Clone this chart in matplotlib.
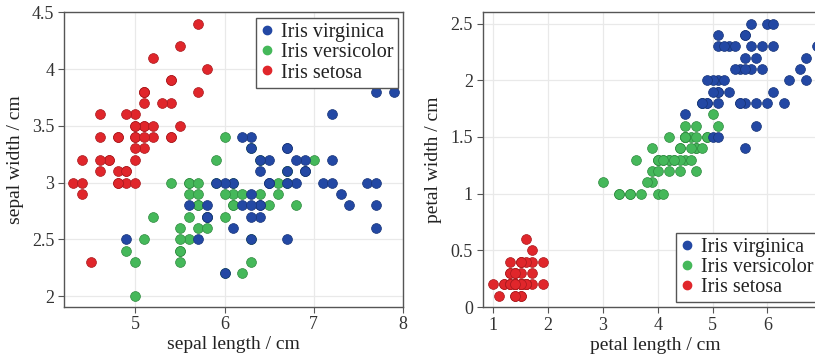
import matplotlib
matplotlib.use("Agg")
import matplotlib.pyplot as plt
from matplotlib.lines import Line2D

plt.rcParams["font.family"] = ["Liberation Serif", "DejaVu Serif"]
plt.rcParams["mathtext.fontset"] = "stix"

# Iris data: sepal length, sepal width, petal length, petal width (cm)
setosa_sl = [5.1, 4.9, 4.7, 4.6, 5.0, 5.4, 4.6, 5.0, 4.4, 4.9, 5.4, 4.8, 4.8, 4.3, 5.8, 5.7, 5.4,
             5.1, 5.7, 5.1, 5.4, 5.1, 4.6, 5.1, 4.8, 5.0, 5.0, 5.2, 5.2, 4.7, 4.8, 5.4, 5.2, 5.5,
             4.9, 5.0, 5.5, 4.9, 4.4, 5.1, 5.0, 4.5, 4.4, 5.0, 5.1, 4.8, 5.1, 4.6, 5.3, 5.0]
setosa_sw = [3.5, 3.0, 3.2, 3.1, 3.6, 3.9, 3.4, 3.4, 2.9, 3.1, 3.7, 3.4, 3.0, 3.0, 4.0, 4.4, 3.9,
             3.5, 3.8, 3.8, 3.4, 3.7, 3.6, 3.3, 3.4, 3.0, 3.4, 3.5, 3.4, 3.2, 3.1, 3.4, 4.1, 4.2,
             3.1, 3.2, 3.5, 3.6, 3.0, 3.4, 3.5, 2.3, 3.2, 3.5, 3.8, 3.0, 3.8, 3.2, 3.7, 3.3]
setosa_pl = [1.4, 1.4, 1.3, 1.5, 1.4, 1.7, 1.4, 1.5, 1.4, 1.5, 1.5, 1.6, 1.4, 1.1, 1.2, 1.5, 1.3,
             1.4, 1.7, 1.5, 1.7, 1.5, 1.0, 1.7, 1.9, 1.6, 1.6, 1.5, 1.4, 1.6, 1.6, 1.5, 1.5, 1.4,
             1.5, 1.2, 1.3, 1.4, 1.3, 1.5, 1.3, 1.3, 1.3, 1.6, 1.9, 1.4, 1.6, 1.4, 1.5, 1.4]
setosa_pw = [0.2, 0.2, 0.2, 0.2, 0.2, 0.4, 0.3, 0.2, 0.2, 0.1, 0.2, 0.2, 0.1, 0.1, 0.2, 0.4, 0.4,
             0.3, 0.3, 0.3, 0.2, 0.4, 0.2, 0.5, 0.2, 0.2, 0.4, 0.2, 0.2, 0.2, 0.2, 0.4, 0.1, 0.2,
             0.2, 0.2, 0.2, 0.1, 0.2, 0.2, 0.3, 0.3, 0.2, 0.6, 0.4, 0.3, 0.2, 0.2, 0.2, 0.2]

versicolor_sl = [7.0, 6.4, 6.9, 5.5, 6.5, 5.7, 6.3, 4.9, 6.6, 5.2, 5.0, 5.9, 6.0, 6.1, 5.6, 6.7, 5.6,
                 5.8, 6.2, 5.6, 5.9, 6.1, 6.3, 6.1, 6.4, 6.6, 6.8, 6.7, 6.0, 5.7, 5.5, 5.5, 5.8, 6.0,
                 5.4, 6.0, 6.7, 6.3, 5.6, 5.5, 5.5, 6.1, 5.8, 5.0, 5.6, 5.7, 5.7, 6.2, 5.1, 5.7]
versicolor_sw = [3.2, 3.2, 3.1, 2.3, 2.8, 2.8, 3.3, 2.4, 2.9, 2.7, 2.0, 3.0, 2.2, 2.9, 2.9, 3.1, 3.0,
                 2.7, 2.2, 2.5, 3.2, 2.8, 2.5, 2.8, 2.9, 3.0, 2.8, 3.0, 2.9, 2.6, 2.4, 2.4, 2.7, 2.7,
                 3.0, 3.4, 3.1, 2.3, 3.0, 2.5, 2.6, 3.0, 2.6, 2.3, 2.7, 3.0, 2.9, 2.9, 2.5, 2.8]
versicolor_pl = [4.7, 4.5, 4.9, 4.0, 4.6, 4.5, 4.7, 3.3, 4.6, 3.9, 3.5, 4.2, 4.0, 4.7, 3.6, 4.4, 4.5,
                 4.1, 4.5, 3.9, 4.8, 4.0, 4.9, 4.7, 4.3, 4.4, 4.8, 5.0, 4.5, 3.5, 3.8, 3.7, 3.9, 5.1,
                 4.5, 4.5, 4.7, 4.4, 4.1, 4.0, 4.4, 4.6, 4.0, 3.3, 4.2, 4.2, 4.2, 4.3, 3.0, 4.1]
versicolor_pw = [1.4, 1.5, 1.5, 1.3, 1.5, 1.3, 1.6, 1.0, 1.3, 1.4, 1.0, 1.5, 1.0, 1.4, 1.3, 1.4, 1.5,
                 1.0, 1.5, 1.1, 1.8, 1.3, 1.5, 1.2, 1.3, 1.4, 1.4, 1.7, 1.5, 1.0, 1.1, 1.0, 1.2, 1.6,
                 1.5, 1.6, 1.5, 1.3, 1.3, 1.3, 1.2, 1.4, 1.2, 1.0, 1.3, 1.2, 1.3, 1.3, 1.1, 1.3]

virginica_sl = [6.3, 5.8, 7.1, 6.3, 6.5, 7.6, 4.9, 7.3, 6.7, 7.2, 6.5, 6.4, 6.8, 5.7, 5.8, 6.4, 6.5,
                7.7, 7.7, 6.0, 6.9, 5.6, 7.7, 6.3, 6.7, 7.2, 6.2, 6.1, 6.4, 7.2, 7.4, 7.9, 6.4, 6.3,
                6.1, 7.7, 6.3, 6.4, 6.0, 6.9, 6.7, 6.9, 5.8, 6.8, 6.7, 6.7, 6.3, 6.5, 6.2, 5.9]
virginica_sw = [3.3, 2.7, 3.0, 2.9, 3.0, 3.0, 2.5, 2.9, 2.5, 3.6, 3.2, 2.7, 3.0, 2.5, 2.8, 3.2, 3.0,
                3.8, 2.6, 2.2, 3.2, 2.8, 2.8, 2.7, 3.3, 3.2, 2.8, 3.0, 2.8, 3.0, 2.8, 3.8, 2.8, 2.8,
                2.6, 3.0, 3.4, 3.1, 3.0, 3.1, 3.1, 3.1, 2.7, 3.2, 3.3, 3.0, 2.5, 3.0, 3.4, 3.0]
virginica_pl = [6.0, 5.1, 5.9, 5.6, 5.8, 6.6, 4.5, 6.3, 5.8, 6.1, 5.1, 5.3, 5.5, 5.0, 5.1, 5.3, 5.5,
                6.7, 6.9, 5.0, 5.7, 4.9, 6.7, 4.9, 5.7, 6.0, 4.8, 4.9, 5.6, 5.8, 6.1, 6.4, 5.6, 5.1,
                5.6, 6.1, 5.6, 5.5, 4.8, 5.4, 5.6, 5.1, 5.1, 5.9, 5.7, 5.2, 5.0, 5.2, 5.4, 5.1]
virginica_pw = [2.5, 1.9, 2.1, 1.8, 2.2, 2.1, 1.7, 1.8, 1.8, 2.5, 2.0, 1.9, 2.1, 2.0, 2.4, 2.3, 1.8,
                2.2, 2.3, 1.5, 2.3, 2.0, 2.0, 1.8, 2.1, 1.8, 1.8, 1.8, 2.1, 1.6, 1.9, 2.0, 2.2, 1.5,
                1.4, 2.3, 2.4, 1.8, 1.8, 2.1, 2.4, 2.3, 1.9, 2.3, 2.5, 2.3, 1.9, 2.0, 2.3, 1.8]

species = ["Iris setosa", "Iris versicolor", "Iris virginica"]
colors = ["#e0262b", "#45b85a", "#2348a4"]
edges = ["#a81a1e", "#2f8a40", "#183578"]

sepal = [(setosa_sl, setosa_sw), (versicolor_sl, versicolor_sw), (virginica_sl, virginica_sw)]
petal = [(setosa_pl, setosa_pw), (versicolor_pl, versicolor_pw), (virginica_pl, virginica_pw)]

fig = plt.figure(figsize=(8.15, 3.56), dpi=100)
ax1 = fig.add_axes([0.0785, 0.1385, 0.416, 0.827])
# right panel runs past the figure edge, as in the original crop
ax2 = fig.add_axes([0.5923, 0.1376, 0.4233, 0.828])

spine_col = "#555555"


def style(ax):
    ax.grid(True, color="#e9e9e9", linewidth=0.9, zorder=0)
    ax.set_axisbelow(True)
    for s in ax.spines.values():
        s.set_color(spine_col)
        s.set_linewidth(1.0)
    ax.tick_params(direction="out", length=4, width=0.8, color=spine_col,
                   labelsize=13, labelcolor="#333333", pad=3)


def add_legend(ax, anchor, loc):
    handles = [Line2D([], [], ls="none", marker="o", ms=6, mfc=colors[i], mec=colors[i])
               for i in (2, 1, 0)]
    labels = [species[i] for i in (2, 1, 0)]
    leg = ax.legend(handles, labels, loc=loc, bbox_to_anchor=anchor, borderaxespad=0,
                    fontsize=14.5, fancybox=False, framealpha=1, edgecolor="#555555",
                    handlelength=0.6, handletextpad=0.4, labelspacing=0.05,
                    borderpad=0.25)
    leg.get_frame().set_linewidth(1.0)
    for t in leg.get_texts():
        t.set_color("#222222")


for i, (x, y) in enumerate(sepal):
    ax1.scatter(x, y, s=50, c=colors[i], edgecolors=edges[i], linewidths=0.5, zorder=3)
for i, (x, y) in enumerate(petal):
    ax2.scatter(x, y, s=50, c=colors[i], edgecolors=edges[i], linewidths=0.5, zorder=3)

style(ax1)
ax1.set_xlim(4.2, 8.0)
ax1.set_ylim(1.906, 4.5)
ax1.set_xticks([5, 6, 7, 8])
ax1.set_yticks([2, 2.5, 3, 3.5, 4, 4.5])
ax1.set_yticklabels(["2", "2.5", "3", "3.5", "4", "4.5"])
ax1.set_xlabel("sepal length / cm", fontsize=14, color="#222222", labelpad=2)
ax1.set_ylabel("sepal width / cm", fontsize=14, color="#222222", labelpad=6)
add_legend(ax1, (0.986, 0.98), "upper right")

style(ax2)
ax2.set_xlim(0.806, 7.1)
ax2.set_ylim(0, 2.6)
ax2.set_xticks([1, 2, 3, 4, 5, 6])
ax2.set_yticks([0, 0.5, 1, 1.5, 2, 2.5])
ax2.set_yticklabels(["0", "0.5", "1", "1.5", "2", "2.5"])
ax2.set_xlabel("petal length / cm", fontsize=14, color="#222222", labelpad=2)
ax2.set_ylabel("petal width / cm", fontsize=14, color="#222222", labelpad=6)
add_legend(ax2, (0.559, 0.016), "lower left")

fig.savefig("out.png", dpi=100)
